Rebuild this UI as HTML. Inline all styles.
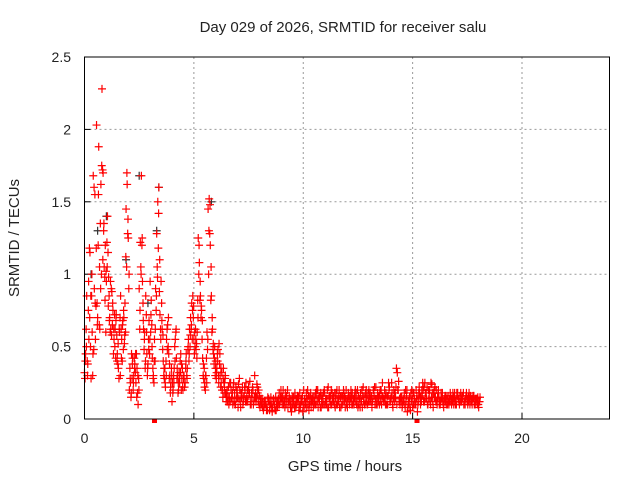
<!DOCTYPE html>
<html><head><meta charset="utf-8"><style>
body{margin:0;background:#fff}
svg text{font-family:"Liberation Sans",sans-serif;font-size:14px;fill:#222}
</style></head><body>
<svg id="chart" width="640" height="480" xmlns="http://www.w3.org/2000/svg">
<text x="343" y="32" text-anchor="middle" style="font-size:15px">Day 029 of 2026, SRMTID for receiver salu</text>
<text x="345" y="471" text-anchor="middle" style="font-size:15px">GPS time / hours</text>
<text transform="translate(19,238) rotate(-90)" text-anchor="middle" style="font-size:15px">SRMTID / TECUs</text>
<g id="grid"></g><g id="axes"></g><g id="marks"></g>
<rect x="84.5" y="57" width="525" height="362" fill="none" stroke="#000" stroke-width="1"/>
</svg>
<script>
const xTicks=[0,5,10,15,20];
const yTicks=[0,0.5,1,1.5,2,2.5];
const yTickLabels=["0","0.5","1","1.5","2","2.5"];
const earlyStart=0, earlyStep=0.05;
const earlyA=[.32,.45,.85,.38,.55,1.15,.28,.6,1.68,.9,
.55,2.03,.7,1.88,.62,1.62,2.28,1.7,1.05,1.2,
.95,1.4,.98,.7,.62,.88,.75,.55,.62,.72,
.45,.35,.6,.85,.55,.68,.7,.8,1.45,1.62,
1.25,.2,.25,.45,.42,.3,.38,.25,.35,.1,
.9,1.22,1.68,.95,.62,.6,.85,.45,.38,.68,
.95,.82,.42,.3,.55,.9,1.28,1.5,1.6,.72,
.95,.62,.4,.28,.22,.55,.65,.45,.3,.25,
.12,.2,.35,.55,.42,.3,.2,.25,.45,.28,
.2,.3,.25,.45,.35,.55,.62,.7,.8,.85,
.55,.5,.48,.6,1.25,1.08,.85,.75,.42,.28,
.25,.3,.6,1.45,1.52,1.2,.85,.62,.45,.5,
.4,.35,.48,.52,.3,.25,.2,.35,.22,.18];
const earlyB=[.28,.62,.4,.75,1.18,.5,.85,.3,.48,1.55,
.78,.8,1.2,.65,1.35,1.0,1.72,1.3,.98,.6,
1.22,1.15,.85,.6,.9,.65,.45,.72,.42,.58,
.38,.28,.7,.62,.4,.48,.52,.6,1.05,1.28,
.9,.35,.15,.28,.2,.42,.32,.45,.18,.28,
.62,1.05,1.2,.8,.48,.35,.72,.3,.55,.45,
.6,.65,.35,.25,.4,.75,1.05,1.18,.88,.62,
.8,.48,.3,.35,.4,.62,.5,.28,.18,.35,
.25,.3,.5,.6,.28,.18,.32,.4,.2,.35,
.28,.22,.35,.3,.48,.4,.5,.62,.55,.7,
.45,.62,.52,.82,1.0,.82,.7,.55,.3,.35,
.2,.42,.48,1.0,1.28,.82,.6,.48,.38,.3,
.28,.45,.3,.38,.22,.32,.15,.25,.28,.12];
const earlyC=[.4,.5,.3,.95,.7,.85,1.0,.45,1.6,.8,
1.18,.65,1.55,1.05,.9,1.75,1.1,1.35,.82,1.02,
1.05,.78,.68,.95,.58,.8,.62,.5,.68,.4,
.52,.62,.3,.42,.65,.75,.58,1.12,1.7,1.38,
1.0,.28,.18,.38,.25,.35,.45,.15,.3,.2,
.75,1.0,1.25,.68,.55,.4,.6,.35,.48,.55,
.72,.5,.28,.4,.62,.85,.98,1.42,1.1,.55,
.68,.58,.35,.25,.3,.48,.7,.38,.22,.3,
.18,.25,.4,.62,.35,.25,.28,.32,.38,.22,
.3,.25,.4,.28,.5,.45,.58,.65,.75,.78,
.6,.55,.42,.7,1.2,.95,.78,.68,.38,.22,
.3,.25,.55,1.3,1.48,1.05,.7,.52,.42,.35,
.32,.4,.25,.45,.35,.2,.28,.18,.3,.15];
const bandStart=6.5, bandStep=0.08;
const bandC=[.18,.22,.12,.15,.25,.1,.2,.14,.08,.22,
.16,.25,.12,.18,.1,.2,.3,.15,.12,.08,
.1,.06,.12,.08,.14,.1,.05,.12,.15,.08,
.18,.2,.15,.12,.1,.08,.14,.05,.12,.18,
.1,.15,.08,.12,.2,.1,.14,.06,.18,.12,
.15,.1,.2,.12,.08,.14,.18,.1,.22,.12,
.1,.16,.08,.2,.12,.15,.1,.18,.14,.08,
.12,.2,.1,.15,.18,.08,.14,.12,.22,.1,
.15,.12,.18,.08,.2,.14,.1,.16,.12,.25,
.12,.18,.1,.22,.15,.08,.12,.35,.2,.1,
.15,.12,.08,.2,.1,.06,.14,.18,.1,.05,
.22,.15,.25,.12,.18,.1,.2,.15,.08,.22,
.12,.2,.1,.15,.08,.12,.14,.1,.16,.12,
.15,.12,.18,.1,.14,.16,.12,.18,.15,.1,
.12,.15,.1,.14,.08];
const bandD=[.12,.15,.2,.1,.18,.14,.08,.2,.15,.12,
.2,.15,.22,.1,.15,.12,.18,.22,.1,.14,
.08,.12,.1,.15,.06,.1,.12,.08,.1,.14,
.12,.15,.1,.18,.14,.12,.08,.15,.1,.08,
.16,.1,.12,.05,.14,.18,.1,.15,.12,.08,
.1,.18,.14,.08,.16,.1,.12,.2,.15,.1,
.14,.1,.18,.12,.08,.16,.12,.15,.1,.18,
.16,.1,.14,.2,.12,.1,.18,.08,.15,.12,
.1,.16,.12,.14,.22,.1,.15,.18,.1,.14,
.15,.1,.25,.12,.18,.2,.15,.32,.12,.15,
.1,.18,.12,.08,.15,.12,.18,.1,.14,.12,
.15,.2,.12,.18,.22,.14,.1,.18,.2,.12,
.15,.1,.18,.12,.14,.1,.16,.12,.1,.15,
.12,.18,.14,.12,.16,.1,.14,.12,.18,.15,
.14,.1,.12,.15,.12];
const bandE=[.2,.1,.25,.18,.12,.22,.15,.28,.18,.1,
.22,.12,.2,.26,.18,.1,.15,.24,.2,.12,
.14,.08,.1,.06,.12,.15,.08,.1,.06,.12,
.1,.14,.2,.08,.16,.12,.1,.08,.15,.1,
.14,.06,.1,.16,.08,.12,.2,.1,.08,.15,
.12,.2,.08,.16,.12,.18,.1,.14,.08,.16,
.18,.12,.14,.1,.2,.08,.16,.12,.2,.14,
.1,.15,.12,.18,.1,.16,.08,.2,.12,.18,
.1,.2,.14,.12,.16,.22,.18,.1,.2,.15,
.2,.1,.16,.12,.25,.14,.18,.1,.26,.15,
.08,.14,.2,.05,.12,.18,.08,.14,.2,.1,
.18,.12,.2,.25,.14,.2,.12,.24,.18,.15,
.1,.15,.12,.18,.12,.16,.1,.14,.12,.18,
.18,.1,.14,.16,.12,.18,.1,.14,.12,.16,
.1,.16,.14,.1,.12];
const bandF=[.15,.25,.14,.22,.1,.18,.24,.12,.18,.15,
.12,.2,.16,.12,.22,.15,.12,.18,.16,.1,
.12,.1,.06,.12,.1,.08,.14,.06,.12,.1,
.15,.1,.12,.14,.2,.16,.12,.1,.08,.14,
.12,.18,.14,.1,.12,.08,.16,.12,.14,.1,
.18,.12,.15,.18,.1,.2,.14,.08,.16,.2,
.12,.18,.1,.15,.16,.1,.2,.08,.12,.16,
.14,.18,.1,.12,.2,.14,.12,.16,.1,.2,
.18,.12,.16,.2,.1,.14,.12,.2,.16,.12,
.1,.16,.2,.14,.1,.18,.22,.2,.14,.12,
.12,.1,.16,.12,.08,.2,.1,.12,.16,.18,
.1,.16,.22,.14,.1,.18,.25,.12,.15,.2,
.18,.12,.14,.1,.16,.14,.12,.18,.14,.1,
.1,.16,.12,.18,.14,.12,.16,.1,.14,.12,
.16,.12,.14,.1,.15];
const grayTimes=[0.3,0.6,1.0,1.9,2.5,2.9,3.3,3.4,5.8];
const grayValues=[1.0,1.3,1.4,1.1,1.68,0.8,1.3,1.6,1.5];
const flagTimes=[3.2,15.2];

const NS="http://www.w3.org/2000/svg";
const X0=84.5,X1=609.5,Y0=419,Y1=57;
const xs=t=>X0+(t/24)*(X1-X0);
const ys=v=>Y0-(v/2.5)*(Y0-Y1);
const grid=document.getElementById('grid'),axes=document.getElementById('axes'),marks=document.getElementById('marks');
function mk(tag,attrs,parent){const e=document.createElementNS(NS,tag);for(const k in attrs)e.setAttribute(k,attrs[k]);parent.appendChild(e);return e;}
xTicks.forEach(t=>{
  if(t>0){const g=mk('line',{x1:xs(t),x2:xs(t),y1:Y0,y2:Y1,stroke:'#999','stroke-dasharray':'2,3'},grid);
  
  }
  const tk=mk('line',{x1:xs(t),x2:xs(t),y1:Y0,y2:Y0-6,stroke:'#000'},axes);
  
  
  const lb=mk('text',{x:xs(t),y:443,'text-anchor':'middle'},axes);lb.textContent=String(t);
  
  
});
yTicks.forEach((v,i)=>{
  if(v>0&&v<2.5){const g=mk('line',{x1:X0,x2:X1,y1:ys(v),y2:ys(v),stroke:'#999','stroke-dasharray':'2,3'},grid);
  
  }
  const tk=mk('line',{x1:X0,x2:X0+6,y1:ys(v),y2:ys(v),stroke:'#000'},axes);
  
  
  const lb=mk('text',{x:71,y:ys(v)+5,'text-anchor':'end'},axes);lb.textContent=yTickLabels[i];
  
  
});
function cross(t,v,color,name){
  const x=xs(t),y=ys(v);
  const p=mk('path',{d:`M${x-4},${y}H${x+4}M${x},${y-4}V${y+4}`,stroke:color,'stroke-width':1.2,fill:'none'},marks);
  
  
}
grayTimes.forEach((t,i)=>cross(t,grayValues[i],'#333','gray-point'));
earlyA.forEach((v,i)=>cross(earlyStart+i*earlyStep,v,'#f00','srmtid-point'));
earlyB.forEach((v,i)=>cross(earlyStart+i*earlyStep+0.025,v,'#f00','srmtid-point'));
earlyC.forEach((v,i)=>cross(earlyStart+i*earlyStep+0.0375,v,'#f00','srmtid-point'));
bandC.forEach((v,i)=>cross(bandStart+i*bandStep,v,'#f00','srmtid-point'));
bandD.forEach((v,i)=>cross(bandStart+i*bandStep+0.04,v,'#f00','srmtid-point'));
bandE.forEach((v,i)=>cross(bandStart+i*bandStep+0.02,v,'#f00','srmtid-point'));
bandF.forEach((v,i)=>cross(bandStart+i*bandStep+0.06,v,'#f00','srmtid-point'));
flagTimes.forEach(t=>{
  const r=mk('rect',{x:xs(t)-2.5,y:Y0,width:5,height:4,fill:'#f00'},marks);
  
  
});
</script>
</body></html>
